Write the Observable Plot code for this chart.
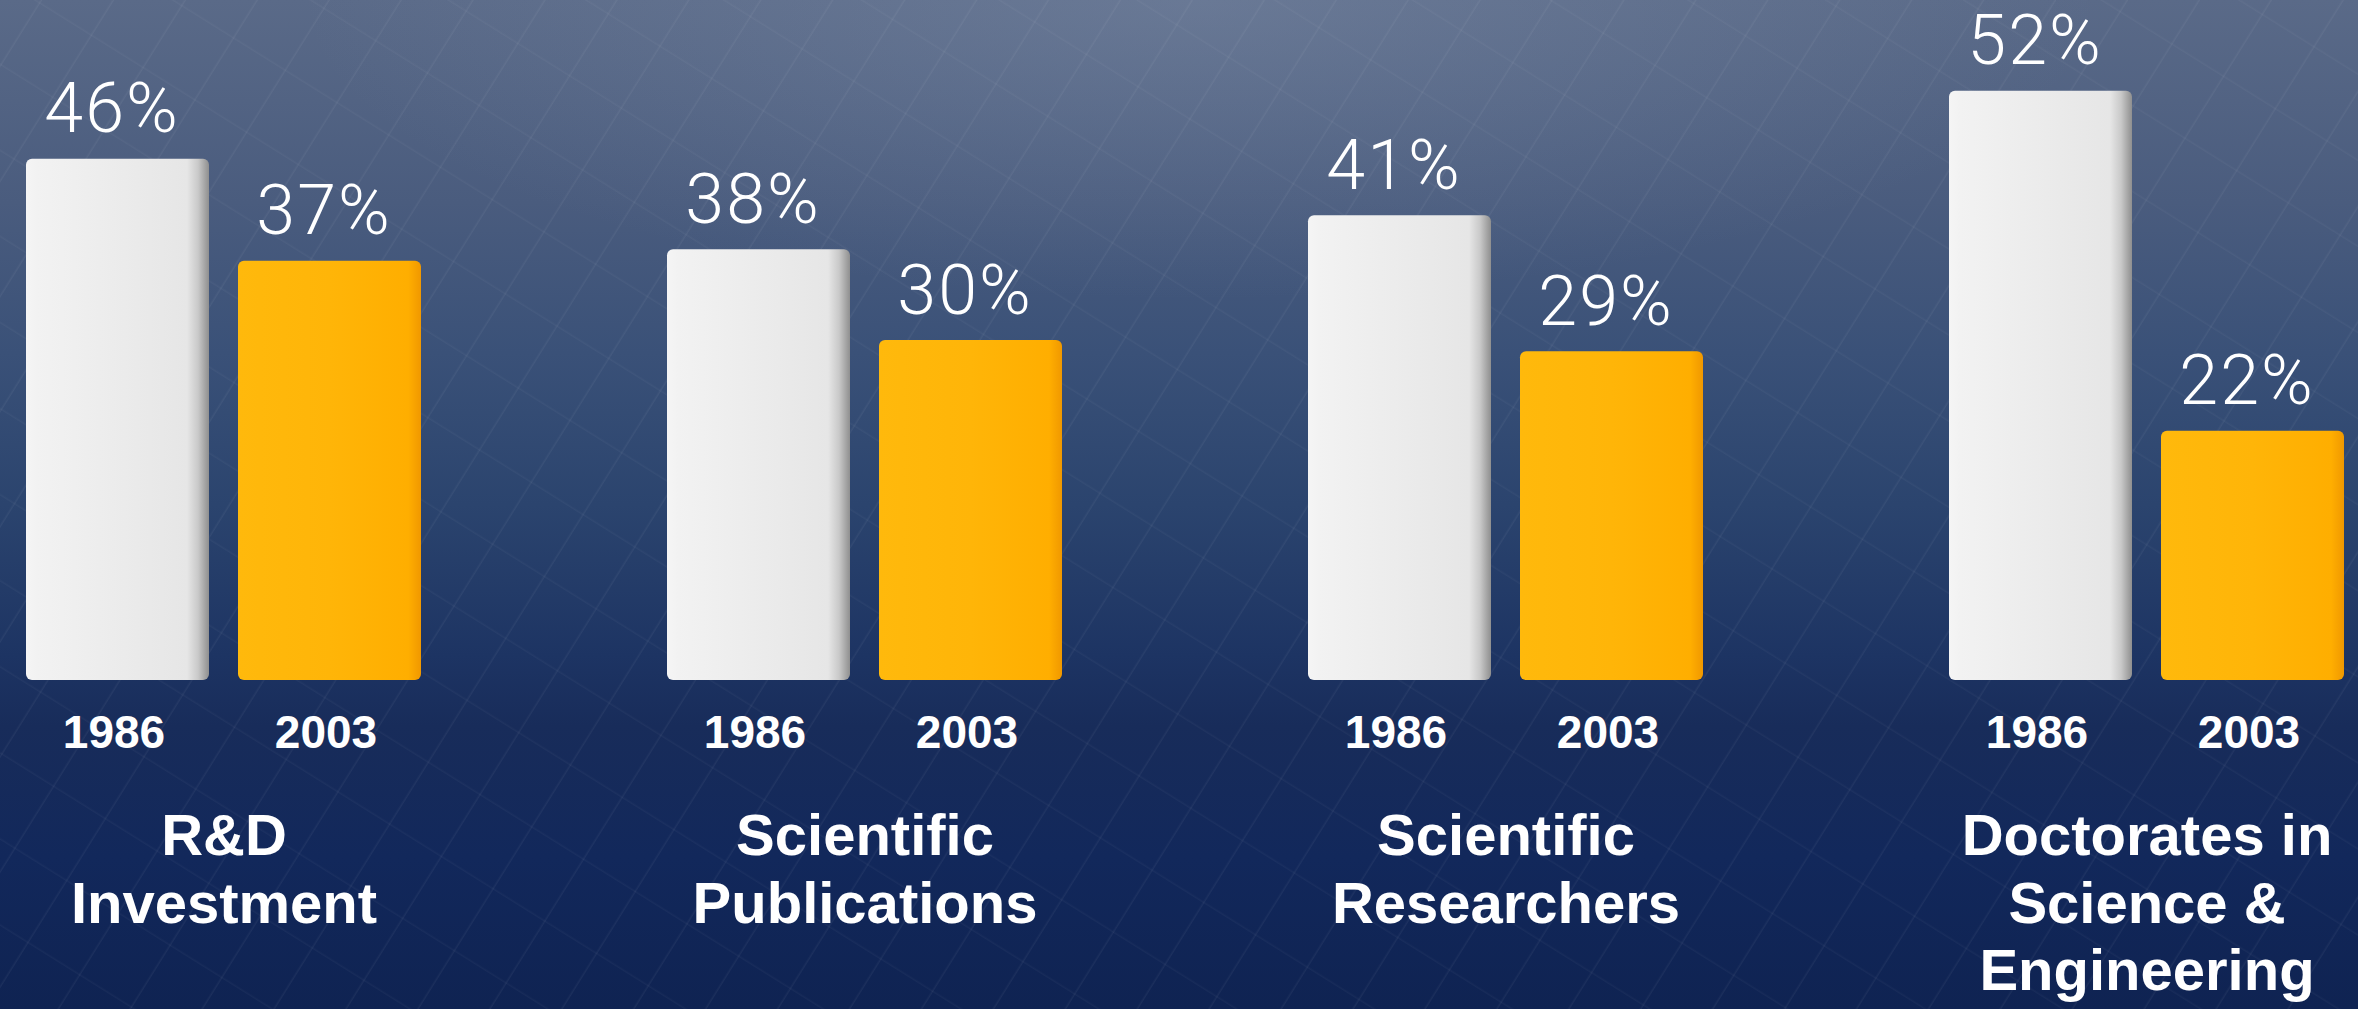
<!DOCTYPE html>
<html>
<head>
<meta charset="utf-8">
<script src="https://cdn.jsdelivr.net/npm/d3@7"></script>
<script src="https://cdn.jsdelivr.net/npm/@observablehq/plot@0.6"></script>
<style>
  html, body { margin: 0; padding: 0; }
  body {
    width: 2358px; height: 1009px; overflow: hidden;
    background:
      repeating-linear-gradient(-58deg, rgba(255,255,255,0) 0px, rgba(255,255,255,0) 58px, rgba(255,255,255,0.05) 59px, rgba(255,255,255,0) 61px),
      repeating-linear-gradient(32deg, rgba(255,255,255,0) 0px, rgba(255,255,255,0) 70px, rgba(255,255,255,0.035) 71px, rgba(255,255,255,0) 73px),
      radial-gradient(ellipse 900px 300px at 1200px 0px, rgba(140,155,180,0.3), rgba(140,155,180,0)),
      linear-gradient(to bottom, #5a6a88 0%, #4a5c7e 20%, #3a5178 35%, #2b446e 50%, #1d3463 65%, #182c5a 72%, #12285b 85%, #0f2352 100%);
  }
  #chart svg { display: block; }
  #chart svg g[aria-label="text"] text { letter-spacing: 2px; }
</style>
</head>
<body>
<svg width="0" height="0" style="position:absolute">
  <defs>
    <linearGradient id="gw" x1="0" x2="1" y1="0" y2="0">
      <stop offset="0" stop-color="#f5f5f5"/>
      <stop offset="0.06" stop-color="#f2f2f2"/>
      <stop offset="0.88" stop-color="#e6e6e6"/>
      <stop offset="0.94" stop-color="#c9c9c9"/>
      <stop offset="1" stop-color="#8f8f8f"/>
    </linearGradient>
    <linearGradient id="go" x1="0" x2="1" y1="0" y2="0">
      <stop offset="0" stop-color="#ffb90c"/>
      <stop offset="0.5" stop-color="#ffb508"/>
      <stop offset="0.93" stop-color="#ffae00"/>
      <stop offset="1" stop-color="#f09800"/>
    </linearGradient>
  </defs>
</svg>
<div id="chart"></div>
<script>
const categories = ["R&D Investment", "Scientific Publications", "Scientific Researchers", "Doctorates in Science & Engineering"];
const categoryLabels = ["R&D\nInvestment", "Scientific\nPublications", "Scientific\nResearchers", "Doctorates in\nScience &\nEngineering"];
const years = ["1986", "2003"];
const values1986 = [46, 38, 41, 52];
const values2003 = [37, 30, 29, 22];

const data = [];
categories.forEach((c, i) => {
  data.push({category: c, year: years[0], value: values1986[i]});
  data.push({category: c, year: years[1], value: values2003[i]});
});
const labelOf = new Map(categories.map((c, i) => [c, categoryLabels[i]]));

const chart = Plot.plot({
  width: 2358,
  height: 1009,
  marginTop: 0,
  marginBottom: 329,
  marginLeft: 25,
  marginRight: 13,
  style: {background: "transparent", color: "white", overflow: "visible"},
  fx: {domain: categories, paddingInner: 0.3835, paddingOuter: 0},
  x: {domain: years, paddingInner: 0.139, paddingOuter: 0},
  y: {domain: [0, 60], axis: null},
  color: {domain: years, range: ["url(#gw)", "url(#go)"]},
  marks: [
    Plot.barY(data, {fx: "category", x: "year", y: "value", fill: "year", rx: 6}),
    Plot.text(data, {
      fx: "category", x: "year", y: "value",
      text: d => d.value + "%",
      lineAnchor: "bottom", dy: -27, dx: -6,
      fill: "white", fontSize: 70, fontWeight: 300,
      fontFamily: "Roboto, 'Open Sans', Lato, sans-serif"
    }),
    Plot.axisX({
      tickSize: 0, tickPadding: 35, fontSize: 46, fontWeight: "bold", dx: -4,
      fill: "white", fontFamily: "'Liberation Sans', Arial, sans-serif", label: null
    }),
    Plot.axisFx({
      anchor: "bottom", tickSize: 0, tickPadding: 126, fontSize: 58, fontWeight: "bold",
      lineHeight: 1.17, fill: "white", fontFamily: "'Liberation Sans', Arial, sans-serif",
      tickFormat: c => labelOf.get(c), label: null, textOverflow: null
    })
  ]
});
document.getElementById("chart").appendChild(chart);
</script>
</body>
</html>
